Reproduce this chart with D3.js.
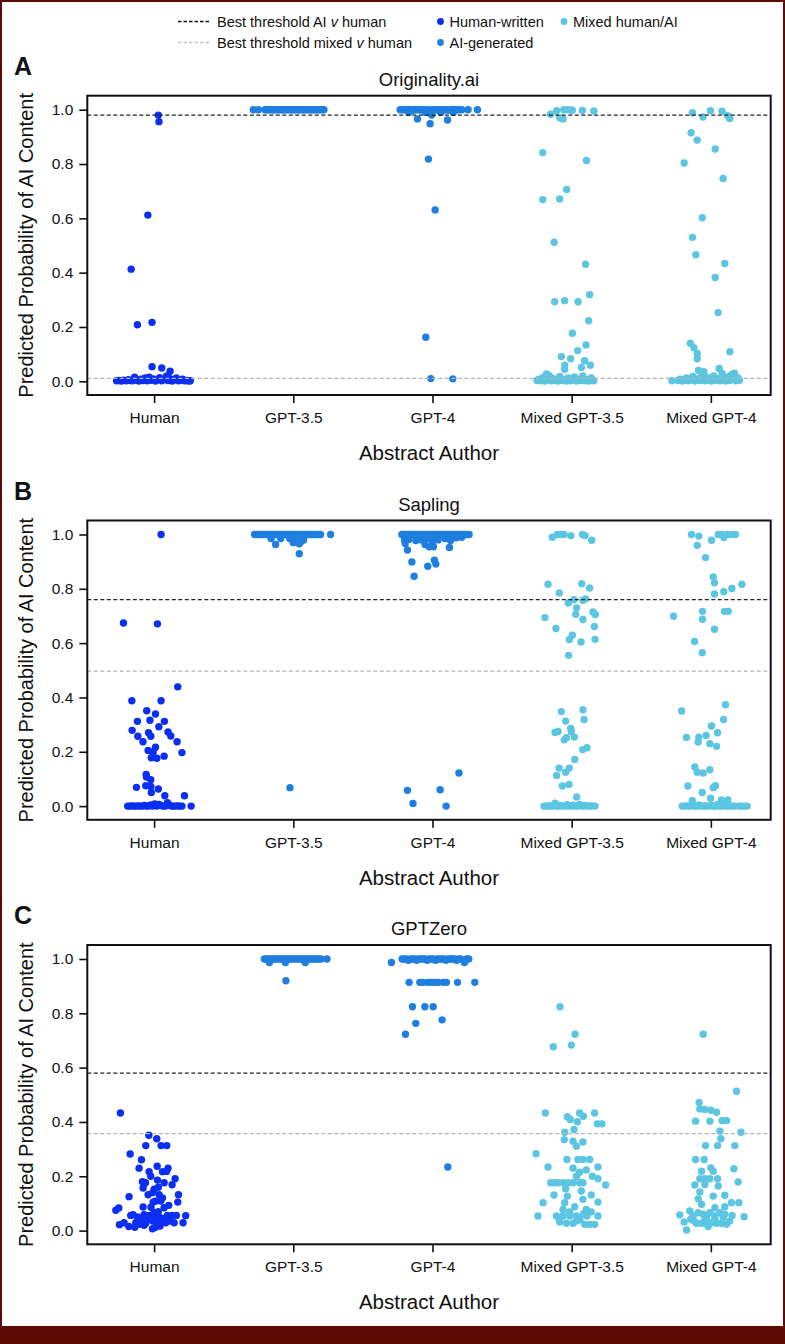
<!DOCTYPE html>
<html><head><meta charset="utf-8">
<script src="https://cdn.jsdelivr.net/npm/d3@7"></script>
<style>
body{margin:0;background:#fff}
svg{display:block}
text{font-family:"Liberation Sans",Arial,Helvetica,sans-serif;fill:#111}
</style>
</head><body>
<svg id="chart" width="785" height="1344"></svg>
<script>
// ---------- data ----------
const categories = ["Human", "GPT-3.5", "GPT-4", "Mixed GPT-3.5", "Mixed GPT-4"];
const categoryGroup = ["human", "ai", "ai", "mixed", "mixed"];
const yTickValues = [0, 0.2, 0.4, 0.6, 0.8, 1.0];
const detectors = ["Originality.ai", "Sapling", "GPTZero"];
const panelLetters = ["A", "B", "C"];
const thresholdAI = [0.98, 0.76, 0.58];
const thresholdMixed = [0.011, 0.497, 0.357];
const legendLines = ["Best threshold AI |v| human", "Best threshold mixed |v| human"];
const legendDots = [["human", "Human-written"], ["mixed", "Mixed human/AI"], ["ai", "AI-generated"]];

// each point: [predicted probability, horizontal jitter (in category widths)]
const origHuman = [[0.980,0.03],[0.956,0.035],[0.612,-0.045],[0.413,-0.165],[0.208,-0.12],[0.217,-0.015],[0.054,-0.015],[0.049,0.055],[0.037,0.115],
 [0.002,-0.27],[0.003,-0.25],[0.001,-0.235],[0.004,-0.22],[0.002,-0.2],[0.006,-0.185],[0.015,-0.14],[0.003,-0.17],[0.002,-0.155],[0.005,-0.125],[0.001,-0.11],[0.008,-0.095],[0.003,-0.08],[0.012,-0.065],[0.002,-0.05],[0.015,-0.035],[0.004,-0.02],[0.009,-0.005],[0.001,0.01],[0.006,0.025],[0.013,0.04],[0.002,0.055],[0.007,0.07],[0.02,0.09],[0.003,0.1],[0.01,0.115],[0.001,0.13],[0.006,0.145],[0.012,0.16],[0.002,0.175],[0.004,0.19],[0.008,0.205],[0.002,0.22],[0.003,0.235],[0.001,0.25],[0.002,0.26]];
const origGpt35 = [[1,-0.287],[1,-0.251],[1,-0.203],[1,-0.19],[1,-0.177],[1,-0.163],[1,-0.15],[1,-0.136],[1,-0.122],[1,-0.108],[1,-0.095],[1,-0.081],[1,-0.068],[1,-0.054],[1,-0.04],[1,-0.027],[1,-0.013],[1,0],[1,0.013],[1,0.027],[1,0.04],[1,0.054],[1,0.068],[1,0.081],[1,0.095],[1,0.108],[1,0.122],[1,0.136],[1,0.15],[1,0.163],[1,0.177],[1,0.19],[1,0.205],[1,0.22]];
const origGpt4 = [[1,-0.232],[1,-0.215],[1,-0.2],[0.999,-0.185],[1,-0.17],[1,-0.155],[0.998,-0.14],[1,-0.125],[1,-0.11],[1,-0.095],[0.999,-0.08],[1,-0.065],[1,-0.05],[1,-0.035],[0.997,-0.02],[1,-0.005],[1,0.01],[1,0.025],[0.999,0.04],[1,0.055],[1,0.07],[1,0.085],[1,0.1],[0.998,0.115],[1,0.13],[1,0.145],[1,0.16],[1,0.175],[1,0.19],[1,0.211],[1,0.256],[1,0.323],
 [0.99,-0.17],[0.99,-0.05],[0.99,0.06],[0.99,0.15],
 [0.980,-0.005],[0.966,-0.108],[0.948,-0.017],[0.962,0.108],[0.818,-0.029],[0.631,0.019],[0.162,-0.048],[0.010,-0.012],[0.009,0.146]];
const origMix35 = [[0.983,-0.151],[0.996,-0.108],[1,-0.057],[1,-0.034],[0.999,-0.007],[0.998,0.005],[0.970,-0.086],[0.966,-0.062],[0.997,0.077],[0.995,0.16],[0.842,-0.208],[0.813,0.106],[0.706,-0.036],[0.669,-0.208],[0.671,-0.086],[0.512,-0.126],[0.431,0.1],[0.293,-0.122],[0.297,-0.05],[0.293,0.046],[0.319,0.129],[0.223,0.122],[0.177,0.005],[0.134,0.103],[0.113,0.043],[0.091,-0.074],[0.083,-0.007],[0.076,0.093],[0.059,-0.05],[0.059,0.134],[0.051,0.07],[0.044,-0.05],[0.027,-0.18],
 [0.003,-0.249],[0.008,-0.235],[0.002,-0.22],[0.015,-0.205],[0.001,-0.19],[0.006,-0.175],[0.02,-0.16],[0.002,-0.145],[0.01,-0.13],[0.004,-0.115],[0.001,-0.1],[0.018,-0.085],[0.003,-0.07],[0.007,-0.055],[0.001,-0.04],[0.012,-0.025],[0.002,-0.01],[0.005,0.005],[0.016,0.02],[0.001,0.035],[0.008,0.05],[0.003,0.065],[0.02,0.08],[0.002,0.095],[0.006,0.11],[0.001,0.125],[0.012,0.14],[0.002,0.158]];
const origMix4 = [[0.989,-0.132],[0.973,-0.057],[0.996,-0.003],[0.994,0.081],[0.978,0.122],[0.968,0.136],[0.915,-0.142],[0.888,-0.098],[0.855,0.031],[0.804,-0.192],[0.747,0.088],[0.602,-0.062],[0.530,-0.132],[0.466,-0.108],[0.434,0.1],[0.382,0.031],[0.253,0.052],[0.140,-0.147],[0.124,-0.122],[0.103,-0.098],[0.083,-0.098],[0.109,0.136],
 [0.002,-0.28],[0.003,-0.235],[0.008,-0.22],[0.001,-0.205],[0.004,-0.19],[0.012,-0.175],[0.002,-0.16],[0.006,-0.145],[0.018,-0.13],[0.001,-0.115],[0.009,-0.1],[0.04,-0.089],[0.003,-0.075],[0.022,-0.065],[0.035,-0.05],[0.002,-0.04],[0.014,-0.025],[0.005,-0.01],[0.001,0.005],[0.02,0.02],[0.004,0.035],[0.01,0.05],[0.047,0.06],[0.002,0.065],[0.03,0.08],[0.006,0.09],[0.001,0.105],[0.016,0.12],[0.003,0.135],[0.025,0.15],[0.008,0.165],[0.03,0.17],[0.002,0.18],[0.012,0.195],[0.004,0.206]];

const sapHuman = [[1.0,0.05],[0.674,-0.22],[0.671,0.024],[0.439,0.17],[0.388,-0.16],[0.388,0.05],[0.351,-0.053],[0.339,0.01],[0.312,-0.12],[0.316,-0.03],[0.312,0.074],[0.292,0.034],[0.279,-0.158],[0.273,0.1],[0.270,-0.04],[0.257,-0.024],[0.257,-0.117],[0.258,0.12],[0.237,-0.08],[0.237,0.165],[0.217,0.01],[0.205,-0.043],[0.199,-0.007],[0.197,0.2],[0.178,-0.02],[0.176,0.02],[0.184,0.072],[0.117,-0.057],[0.107,-0.055],[0.097,-0.024],[0.069,-0.127],[0.075,-0.06],[0.072,-0.024],[0.063,0.03],[0.050,-0.02],[0.038,0.077],[0.038,0.218],
 [0,-0.19],[0,-0.175],[0.001,-0.16],[0,-0.145],[0,-0.13],[0.001,-0.115],[0,-0.1],[0,-0.085],[0.002,-0.07],[0,-0.055],[0,-0.04],[0.004,-0.025],[0,-0.01],[0.008,0.005],[0,0.02],[0.006,0.035],[0.002,0.05],[0,0.065],[0,0.08],[0.013,0.096],[0.003,0.11],[0,0.125],[0,0.14],[0,0.155],[0.001,0.17],[0,0.185],[0,0.2],[0,0.266]];
const sapGpt35 = [[1,-0.278],[1,-0.263],[1,-0.248],[1,-0.233],[1,-0.218],[1,-0.203],[1,-0.188],[1,-0.173],[1,-0.158],[1,-0.143],[1,-0.128],[1,-0.113],[1,-0.098],[1,-0.083],[1,-0.068],[1,-0.053],[1,-0.038],[1,-0.023],[1,-0.008],[1,0.007],[1,0.022],[1,0.037],[1,0.052],[1,0.067],[1,0.082],[1,0.097],[1,0.112],[1,0.127],[1,0.142],[1,0.157],[1,0.172],[1,0.186],[1,0.196],[1,0.268],
 [0.985,-0.16],[0.963,-0.127],[0.97,0],[0.966,0.043],[0.929,0.043],[0.985,-0.026],[0.98,0.074],[0.99,0.02],[0.985,-0.09],[0.975,0.06],[0.068,-0.024]];
const sapGpt4 = [[1,-0.22],[1,-0.205],[1,-0.19],[1,-0.175],[1,-0.16],[1,-0.145],[1,-0.13],[1,-0.115],[1,-0.1],[1,-0.085],[1,-0.07],[1,-0.055],[1,-0.04],[1,-0.025],[1,-0.01],[1,0.005],[1,0.02],[1,0.035],[1,0.05],[1,0.065],[1,0.08],[1,0.095],[1,0.11],[1,0.125],[1,0.14],[1,0.155],[1,0.17],[1,0.185],[1,0.2],[1,0.215],[1,0.23],[1,0.245],[1,0.263],
 [0.98,-0.2],[0.982,-0.17],[0.978,-0.12],[0.98,-0.08],[0.985,-0.04],[0.975,0],[0.98,0.04],[0.985,0.09],[0.978,0.13],[0.988,0.17],[0.99,0.21],
 [0.967,-0.196],[0.943,-0.18],[0.963,-0.053],[0.955,-0.024],[0.955,0.007],[0.952,0.122],[0.899,-0.148],[0.883,-0.034],[0.905,0.014],[0.891,0.024],[0.846,-0.132],[0.122,0.19],[0.058,-0.18],[0.060,0.055],[0.010,-0.14],[0.0,0.098]];
const sapMix35 = [[0.99,-0.139],[1.0,-0.103],[1.0,-0.074],[1.0,-0.055],[0.996,-0.005],[1.0,0.077],[0.996,0.096],[0.979,0.144],
 [0.817,-0.17],[0.819,0.072],[0.803,0.129],[0.785,-0.089],[0.763,0.1],[0.758,0.081],[0.760,0.017],[0.748,-0.024],[0.730,0.036],[0.706,0.029],[0.715,0.153],[0.705,0.17],[0.694,-0.192],[0.687,0.081],[0.654,-0.113],[0.661,0.163],[0.629,0.005],[0.613,-0.017],[0.604,0.067],[0.614,0.168],[0.555,-0.022],
 [0.348,-0.074],[0.355,0.081],[0.313,-0.043],[0.319,0.089],[0.286,-0.007],[0.271,-0.12],[0.275,-0.098],[0.274,-0.002],[0.252,-0.038],[0.244,-0.053],[0.254,0.019],[0.215,0.11],[0.208,0.079],[0.172,0.022],[0.14,-0.091],[0.14,-0.017],[0.125,-0.043],[0.113,-0.108],[0.074,-0.067],[0.08,-0.019],[0.034,0.036],
 [0,-0.199],[0,-0.184],[0.001,-0.169],[0,-0.154],[0,-0.139],[0.011,-0.12],[0,-0.109],[0,-0.094],[0.002,-0.079],[0,-0.064],[0,-0.049],[0.005,-0.034],[0,-0.019],[0,-0.004],[0.003,0.011],[0,0.026],[0,0.041],[0.006,0.056],[0,0.071],[0,0.086],[0.002,0.101],[0,0.116],[0,0.131],[0.001,0.146],[0,0.168]];
const sapMix4 = [[1.0,-0.139],[0.994,-0.086],[0.96,-0.098],[0.979,0.005],[1.0,0.053],[1.0,0.081],[0.989,0.093],[1.0,0.117],[1.0,0.153],[1.0,0.177],[0.915,-0.038],
 [0.844,0.017],[0.822,0.026],[0.817,0.223],[0.801,0.151],[0.789,0.093],[0.781,0.026],[0.717,-0.06],[0.717,0.098],[0.717,0.125],[0.699,-0.268],[0.688,-0.06],[0.651,0.026],[0.606,-0.117],[0.565,-0.062],
 [0.373,0.105],[0.350,-0.21],[0.319,0.091],[0.295,0.005],[0.270,0.048],[0.253,-0.175],[0.254,-0.086],[0.26,-0.034],[0.236,-0.091],[0.23,-0.007],[0.22,0.041],[0.144,-0.115],[0.125,-0.098],[0.122,-0.055],[0.134,-0.007],[0.074,-0.165],[0.068,0.017],[0.075,0.033],[0.05,-0.062],[0.029,-0.002],[0.021,-0.134],[0.023,0.077],[0.023,0.122],
 [0,-0.206],[0,-0.191],[0.001,-0.176],[0,-0.161],[0,-0.146],[0.002,-0.131],[0,-0.116],[0,-0.101],[0.004,-0.086],[0,-0.071],[0,-0.056],[0.001,-0.041],[0,-0.026],[0,-0.011],[0.003,0.004],[0,0.019],[0,0.034],[0.006,0.049],[0,0.064],[0,0.079],[0.002,0.094],[0,0.109],[0,0.124],[0.001,0.139],[0,0.154],[0,0.169],[0,0.2],[0,0.22],[0,0.24],[0,0.261]];

const gzHuman = [[0.433,-0.242],[0.351,-0.038],[0.338,0.019],[0.313,-0.06],[0.313,0.05],[0.313,0.091],[0.282,-0.172],[0.261,-0.091],[0.237,0.022],[0.23,-0.108],[0.23,0.1],[0.217,0.06],[0.217,-0.036],[0.218,0.089],[0.2,-0.024],[0.191,0.151],[0.18,-0.084],[0.176,-0.062],[0.186,0.024],[0.176,0.072],[0.169,0.129],[0.157,-0.079],[0.152,0],[0.132,-0.043],[0.132,0.036],[0.125,-0.18],[0.132,0.175],[0.105,-0.007],[0.109,0.048],[0.105,0.17],[0.093,0.105],[0.087,-0.079],[0.086,-0.022],[0.084,0.072],[0.075,-0.275],[0.083,-0.254],[0.056,-0.168],[0.059,-0.151],[0.05,-0.12],[0.059,-0.072],[0.056,-0.036],[0.066,0],[0.05,0.036],[0.056,0.096],[0.056,0.129],[0.056,0.16],[0.055,0.227],[0.022,-0.249],[0.029,-0.216],[0.015,-0.182],[0.012,-0.139],[0.029,-0.132],[0.035,-0.096],[0.027,-0.06],[0.042,-0.043],[0.007,-0.012],[0.035,-0.01],[0.027,0.024],[0.034,0.053],[0.029,0.084],[0.035,0.115],[0.029,0.144],[0.029,0.208],[0.042,0.012],[0.048,-0.024],[0.023,-0.108],[0.02,-0.072],[0.017,0.043],[0.108,0.007],[0.14,-0.01],[0.16,0.03],[0.12,0.06],[0.07,0.03],[0.045,0.07],[0.038,-0.08],[0.012,0.01]];
const gzGpt35 = [[1,-0.208],[1,-0.193],[1,-0.178],[1,-0.163],[1,-0.148],[1,-0.133],[1,-0.118],[1,-0.103],[1,-0.088],[1,-0.073],[1,-0.058],[1,-0.043],[1,-0.028],[1,-0.013],[1,0.002],[1,0.017],[1,0.032],[1,0.047],[1,0.062],[1,0.077],[1,0.092],[1,0.107],[1,0.122],[1,0.137],[1,0.152],[1,0.167],[1,0.182],[1,0.199],[1,0.242],
 [0.987,-0.172],[0.987,-0.057],[0.987,0.086],[0.92,-0.053]];
const gzGpt4 = [[0.987,-0.295],[1,-0.218],[1,-0.203],[1,-0.188],[0.995,-0.173],[1,-0.158],[1,-0.143],[1,-0.128],[0.995,-0.113],[1,-0.098],[1,-0.083],[1,-0.068],[1,-0.053],[0.995,-0.038],[1,-0.023],[1,-0.008],[1,0.007],[0.995,0.022],[1,0.037],[1,0.052],[1,0.067],[1,0.082],[0.995,0.097],[1,0.112],[1,0.127],[1,0.142],[1,0.157],[0.995,0.172],[1,0.187],[1,0.202],[0.987,0.23],[1,0.245],[1,0.261],
 [0.914,-0.168],[0.914,-0.091],[0.914,-0.067],[0.914,-0.031],[0.914,-0.007],[0.914,0.017],[0.914,0.041],[0.914,0.077],[0.914,0.1],[0.914,0.18],[0.914,0.304],
 [0.824,-0.144],[0.824,-0.055],[0.824,0.005],[0.776,0.069],[0.763,-0.12],[0.723,-0.194],[0.234,0.11]];
const gzMix35 = [[0.824,-0.084],[0.723,0.024],[0.683,-0.002],[0.677,-0.132],
 [0.433,-0.189],[0.419,-0.031],[0.409,-0.01],[0.401,0.041],[0.433,0.057],[0.421,0.084],[0.433,0.165],[0.393,0.184],[0.393,0.218],
 [0.362,-0.05],[0.372,0.017],[0.335,-0.053],[0.329,0.01],[0.311,0.034],[0.326,0.081],[0.283,-0.256],
 [0.262,-0.034],[0.262,0.045],[0.262,0.081],[0.262,0.129],[0.234,-0.17],[0.23,0.01],[0.223,0.105],[0.234,0.189],[0.215,0.057],[0.2,0.148],[0.2,0.034],
 [0.176,-0.151],[0.176,-0.122],[0.176,-0.098],[0.176,-0.062],[0.176,-0.026],[0.176,0.01],[0.176,0.057],[0.176,0.081],[0.168,0.244],[0.191,0.189],
 [0.154,-0.043],[0.146,0.069],[0.131,-0.127],[0.131,0.141],[0.127,-0.031],[0.115,0.081],[0.103,-0.206],[0.103,-0.05],[0.105,0.189],[0.088,0.022],[0.078,0.105],[0.078,-0.062],[0.069,-0.014],[0.069,0.141],
 [0.054,-0.242],[0.054,-0.11],[0.054,-0.062],[0.054,-0.014],[0.054,0.034],[0.054,0.11],[0.054,0.189],[0.032,-0.086],[0.027,-0.038],[0.027,0.01],[0.023,0.093],[0.023,0.129],[0.023,0.165],[0.035,0.034],[0.045,-0.09],[0.04,0.06],[0.062,0.085]];
const gzMix4 = [[0.723,-0.055],[0.513,0.184],
 [0.472,-0.084],[0.448,-0.079],[0.446,-0.043],[0.443,0],[0.436,0.041],[0.403,-0.11],[0.403,-0.007],[0.405,0.081],[0.405,0.113],
 [0.366,0.065],[0.362,0.216],[0.338,0.072],[0.313,-0.038],[0.313,0.048],[0.313,0.172],
 [0.262,-0.11],[0.262,-0.048],[0.228,0.165],[0.219,-0.067],[0.231,0],[0.219,0.017],
 [0.191,-0.079],[0.191,-0.043],[0.191,-0.007],[0.191,0.048],[0.179,0.196],
 [0.168,-0.115],[0.17,-0.043],[0.164,0.053],[0.142,-0.079],[0.127,0.017],[0.13,0.1],[0.117,-0.091],[0.097,-0.067],[0.103,0.148],[0.103,0.201],[0.084,0.029],[0.088,0.1],
 [0.058,-0.223],[0.072,-0.151],[0.032,-0.192],[0.002,-0.175],[0.054,-0.127],[0.066,-0.091],[0.06,-0.055],[0.048,-0.031],[0.066,-0.007],[0.054,0.029],[0.066,0.065],[0.06,0.1],[0.056,0.153],[0.051,0.239],
 [0.027,-0.103],[0.027,-0.067],[0.027,-0.031],[0.029,0.005],[0.027,0.041],[0.027,0.077],[0.023,0.113],[0.035,0.136],[0.042,-0.144],[0.042,-0.043],[0.042,0.029],[0.048,0.089],[0.015,-0.02],[0.035,-0.12]];

const panelData = [
  [origHuman, origGpt35, origGpt4, origMix35, origMix4],
  [sapHuman, sapGpt35, sapGpt4, sapMix35, sapMix4],
  [gzHuman, gzGpt35, gzGpt4, gzMix35, gzMix4]
];

// ---------- style ----------
const colors = {human: "#0a2ef2", ai: "#1f7fe0", mixed: "#5cc6e2"};
const borderColor = "#5e0a04";
const frameLeft = 87.3, frameRight = 770.7, frameH = 299.3;
const panelTops = [95.7, 520.5, 945];

const svg = d3.select("#chart");
svg.append("rect").attr("x", 0).attr("y", 0).attr("width", 785).attr("height", 1344).attr("fill", "#fff");

// outer border
svg.append("rect").attr("x", 0).attr("y", 0).attr("width", 2).attr("height", 1344).attr("fill", borderColor);
svg.append("rect").attr("x", 783).attr("y", 0).attr("width", 2).attr("height", 1344).attr("fill", borderColor);
svg.append("rect").attr("x", 0).attr("y", 0).attr("width", 785).attr("height", 2).attr("fill", borderColor);
svg.append("rect").attr("x", 0).attr("y", 1326).attr("width", 785).attr("height", 18).attr("fill", borderColor);

// legend
const lg = svg.append("g");
const lineStyles = [{stroke: "#111", y: 21.5}, {stroke: "#c2c8c8", y: 42.5}];
legendLines.forEach((label, i) => {
  const yy = lineStyles[i].y;
  lg.append("line").attr("x1", 178).attr("x2", 210).attr("y1", yy).attr("y2", yy)
    .attr("stroke", lineStyles[i].stroke).attr("stroke-width", 1.3).attr("stroke-dasharray", "3.5,2");
  const t = lg.append("text").attr("x", 217).attr("y", yy).attr("dy", "0.36em").style("font-size", "14.5px");
  label.split("|").forEach((part, j) => {
    t.append("tspan").text(part).style("font-style", j === 1 ? "italic" : "normal");
  });
});
const dotPos = [[440.5, 21.5], [564, 21.5], [440.5, 42.5]];
legendDots.forEach(([grp, label], i) => {
  const [dx, dy] = dotPos[i];
  lg.append("circle").attr("cx", dx).attr("cy", dy).attr("r", 3.4).attr("fill", colors[grp]);
  lg.append("text").attr("x", dx + 9).attr("y", dy).attr("dy", "0.36em").style("font-size", "14.5px").text(label);
});

// panels
const x = d3.scaleLinear().domain([-0.48, 4.43]).range([frameLeft, frameRight]);
const y = d3.scaleLinear().domain([-0.0504, 1.0515]).range([frameH, 0]);

panelData.forEach((groups, k) => {
  const g = svg.append("g").attr("transform", `translate(0,${panelTops[k]})`);

  g.append("text").attr("x", 14).attr("y", -20.7).style("font-size", "25px").style("font-weight", "bold").text(panelLetters[k]);
  g.append("text").attr("x", (frameLeft + frameRight) / 2).attr("y", -10).attr("text-anchor", "middle")
    .style("font-size", "18.5px").text(detectors[k]);

  // points
  groups.forEach((pts, ci) => {
    g.append("g").selectAll("circle").data(pts).join("circle")
      .attr("cx", d => x(ci + d[1]))
      .attr("cy", d => y(d[0]))
      .attr("r", 3.7)
      .attr("fill", colors[categoryGroup[ci]]);
  });

  // thresholds
  g.append("line").attr("x1", frameLeft).attr("x2", frameRight)
    .attr("y1", y(thresholdMixed[k])).attr("y2", y(thresholdMixed[k]))
    .attr("stroke", "#b5b5b5").attr("stroke-width", 1.2).attr("stroke-dasharray", "4,2.5");
  g.append("line").attr("x1", frameLeft).attr("x2", frameRight)
    .attr("y1", y(thresholdAI[k])).attr("y2", y(thresholdAI[k]))
    .attr("stroke", "#222").attr("stroke-width", 1.3).attr("stroke-dasharray", "4,2.5");

  // axes
  const ya = g.append("g").attr("transform", `translate(${frameLeft},0)`)
    .call(d3.axisLeft(y).tickValues(yTickValues).tickFormat(d3.format(".1f")).tickSize(8).tickPadding(6));
  ya.select(".domain").remove();
  ya.selectAll("line").attr("stroke", "#111").attr("stroke-width", 1.6);
  ya.selectAll("text").style("font-size", "15.5px").attr("fill", "#111").style("font-family", '"Liberation Sans",Arial,sans-serif');

  const xa = g.append("g").attr("transform", `translate(0,${frameH})`)
    .call(d3.axisBottom(x).tickValues([0, 1, 2, 3, 4]).tickFormat(i => categories[i]).tickSize(8).tickPadding(9));
  xa.select(".domain").remove();
  xa.selectAll("line").attr("stroke", "#111").attr("stroke-width", 1.6);
  xa.selectAll("text").style("font-size", "15.5px").attr("fill", "#111").style("font-family", '"Liberation Sans",Arial,sans-serif');

  // frame
  g.append("rect").attr("x", frameLeft).attr("y", 0).attr("width", frameRight - frameLeft).attr("height", frameH)
    .attr("fill", "none").attr("stroke", "#111").attr("stroke-width", 2);

  // axis titles
  g.append("text").attr("x", (frameLeft + frameRight) / 2).attr("y", frameH + 65).attr("text-anchor", "middle")
    .style("font-size", "20.5px").text("Abstract Author");
  g.append("text").attr("transform", `translate(33,${frameH / 2}) rotate(-90)`).attr("text-anchor", "middle")
    .style("font-size", "20px").text("Predicted Probability of AI Content");
});
</script>
</body></html>
